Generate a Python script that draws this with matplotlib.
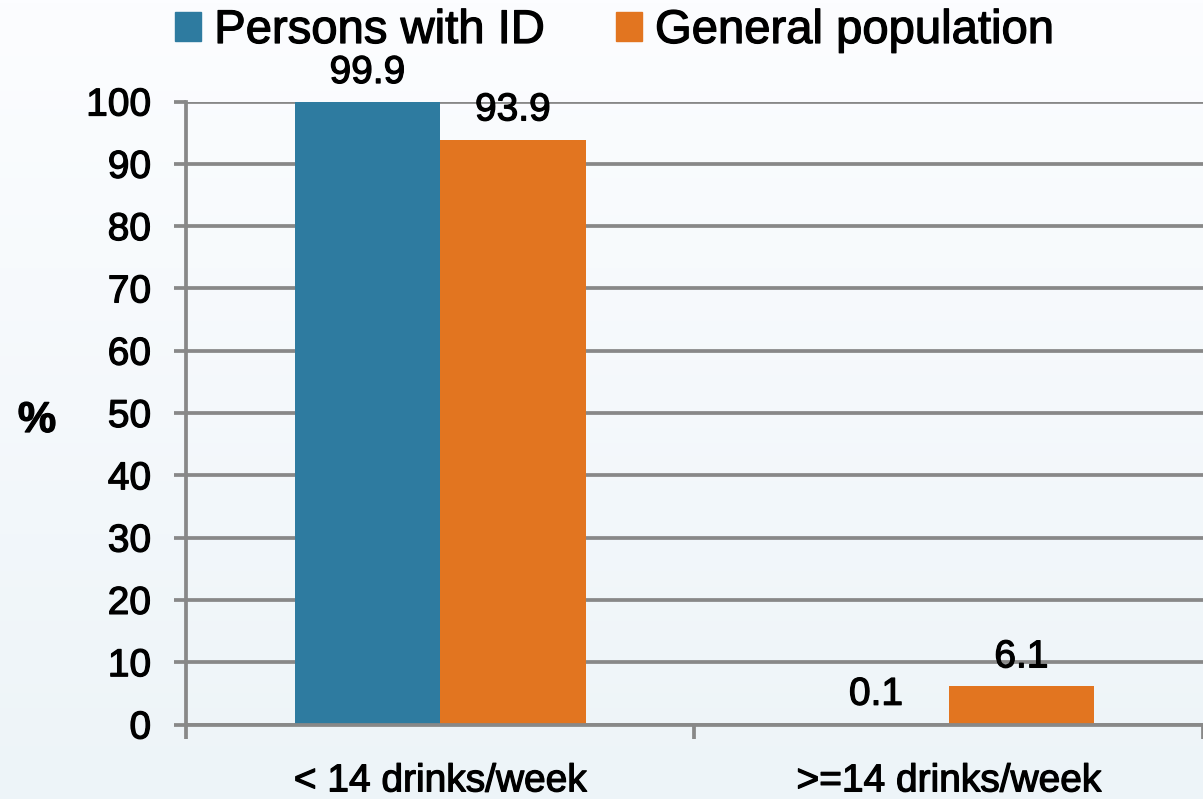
import matplotlib
matplotlib.use('Agg')
import matplotlib.pyplot as plt
import matplotlib.patheffects as pe
import numpy as np
from matplotlib.patches import Patch
from matplotlib.colors import LinearSegmentedColormap

categories = ['< 14 drinks/week', '>=14 drinks/week']
series_names = ['Persons with ID', 'General population']
persons_id = [99.9, 0.1]
general_pop = [93.9, 6.1]
y_ticks = [0, 10, 20, 30, 40, 50, 60, 70, 80, 90, 100]

plt.rcParams['font.family'] = ['Liberation Sans', 'DejaVu Sans']

W, H = 1203, 799
BLUE = '#2e7ba0'
ORANGE = '#e27520'
GRID = '#888888'
thick = [pe.withStroke(linewidth=0.9, foreground='black')]

fig = plt.figure(figsize=(W / 100, H / 100), dpi=100)

bg = fig.add_axes([0, 0, 1, 1], zorder=-10)
grad = np.linspace(0, 1, 256).reshape(-1, 1)
cmap = LinearSegmentedColormap.from_list('bg', ['#edf4f8', '#fcfdff'])
bg.imshow(grad, aspect='auto', cmap=cmap, extent=[0, 1, 0, 1], origin='lower')
bg.axis('off')

X0, Y0, Y100 = 185.8, 724.5, 101.5
ax = fig.add_axes([X0 / W, (H - Y0) / H, 1 - X0 / W, (Y0 - Y100) / H])
ax.set_facecolor('none')

unit = 517.5
x = np.arange(len(categories))
bw = 148 / unit
b1 = ax.bar(x - bw / 2, persons_id, bw, color=BLUE, zorder=3, label=series_names[0])
b2 = ax.bar(x + bw / 2, general_pop, bw, color=ORANGE, zorder=3, label=series_names[1])

ax.set_xlim(-0.5, -0.5 + (W - X0) / unit)
ax.set_ylim(0, 100)
ax.set_yticks(y_ticks)
ax.yaxis.grid(True, color=GRID, lw=2.7)
ax.set_axisbelow(True)

for s in ['top', 'right']:
    ax.spines[s].set_visible(False)
for s in ['left', 'bottom']:
    ax.spines[s].set_color(GRID)
    ax.spines[s].set_linewidth(2.7)
ax.spines['bottom'].set_zorder(4)

ax.tick_params(axis='y', length=9, width=2.7, color=GRID, pad=16, labelsize=28)
ax.set_xticks(x)
ax.set_xticklabels(categories)
ax.tick_params(axis='x', which='major', length=0, pad=28, labelsize=28)
ax.set_xticks([-0.5, 0.5, 1.5], minor=True)
ax.tick_params(axis='x', which='minor', length=10, width=2.7, color=GRID)
for lab in ax.get_xticklabels() + ax.get_yticklabels():
    lab.set_path_effects(thick)

ylab = ax.set_ylabel('%', rotation=0, fontsize=31, fontweight='bold', va='center', ha='center')
ylab.set_path_effects(thick)
ax.yaxis.set_label_coords((37 - X0) / (W - X0), (Y0 - 421) / (Y0 - Y100))

for t in ax.bar_label(b1, fmt='%.1f', padding=8, fontsize=28) + ax.bar_label(b2, fmt='%.1f', padding=8, fontsize=28):
    t.set_path_effects(thick)

handles = [Patch(color=BLUE), Patch(color=ORANGE)]
leg = fig.legend(handles, series_names, loc='center left', bbox_to_anchor=(175 / W, 1 - 31 / H),
                 ncol=2, frameon=False, fontsize=34, handlelength=0.55, handleheight=0.57,
                 handletextpad=0.28, columnspacing=1.5, borderpad=0, borderaxespad=0)
for t in leg.get_texts():
    t.set_path_effects(thick)

fig.savefig('out.png', dpi=100)
